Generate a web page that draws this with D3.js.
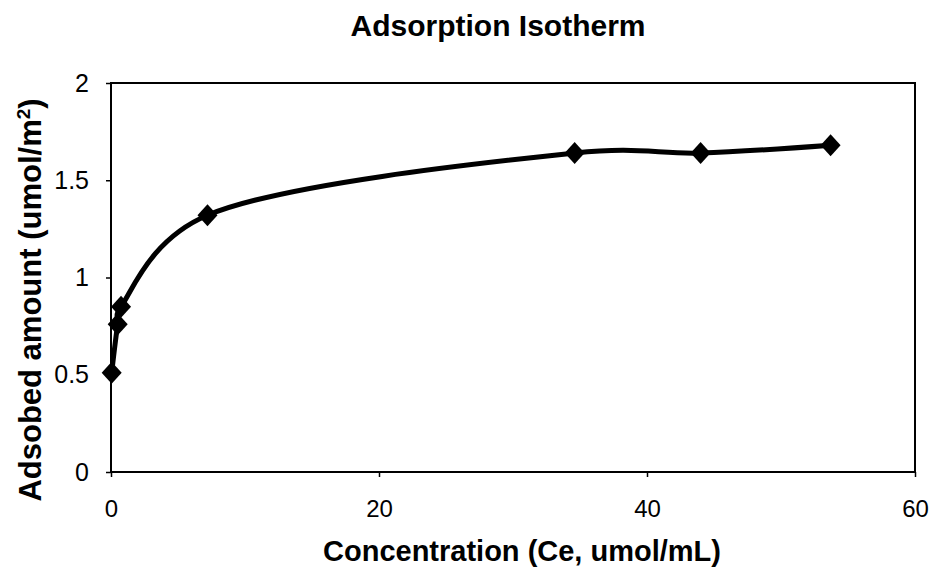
<!DOCTYPE html>
<html><head><meta charset="utf-8">
<script src="https://cdn.jsdelivr.net/npm/d3@7"></script>
<style>body{margin:0;background:#fff}svg{display:block}text{font-family:Arial,"Liberation Sans",sans-serif;fill:#000}</style>
</head><body><svg id="c" width="940" height="574"></svg>
<script>
const concentration = [0.05, 0.5, 0.75, 7.2, 34.6, 44.0, 53.7];
const adsorbed = [0.51, 0.76, 0.85, 1.32, 1.64, 1.64, 1.68];
const xTicks = [0, 20, 40, 60];
const yTicks = [0, 0.5, 1, 1.5, 2];
const yTickLabels = ["0", "0.5", "1", "1.5", "2"];
const title = "Adsorption Isotherm";
const xTitle = "Concentration (Ce, umol/mL)";

const svg = d3.select("#c");
const L = 111, R = 915, T = 83, B = 472;
const x = d3.scaleLinear().domain([0, 60]).range([L, R]);
const y = d3.scaleLinear().domain([0, 2]).range([B, T]);

svg.append("rect").attr("x", L).attr("y", T).attr("width", R - L).attr("height", B - T)
  .attr("fill", "none").attr("stroke", "#000").attr("stroke-width", 2);

const xa = svg.append("g").attr("transform", `translate(0,${B})`)
  .call(d3.axisBottom(x).tickValues(xTicks).tickSize(5).tickPadding(23).tickFormat(d3.format("d")));
xa.select(".domain").remove();
xa.selectAll("text").attr("font-size", 24).attr("font-family", "Arial, 'Liberation Sans', sans-serif");
xa.selectAll("line").attr("stroke-width", 1.5);

const ya = svg.append("g").attr("transform", `translate(${L},0)`)
  .call(d3.axisLeft(y).tickValues(yTicks).tickSize(5).tickPadding(17).tickFormat((d, i) => yTickLabels[i]));
ya.select(".domain").remove();
ya.selectAll("text").attr("font-size", 25).attr("font-family", "Arial, 'Liberation Sans', sans-serif");
ya.selectAll("line").attr("stroke-width", 1.5);

const pts = concentration.map((c, i) => [c, adsorbed[i]]);
svg.append("path").datum(pts)
  .attr("d", d3.line().x(d => x(d[0])).y(d => y(d[1])).curve(d3.curveCatmullRom.alpha(0.25)))
  .attr("fill", "none").attr("stroke", "#000").attr("stroke-width", 5).attr("stroke-linejoin", "round");

svg.append("g").selectAll("path").data(pts).join("path")
  .attr("transform", d => `translate(${x(d[0])},${y(d[1])})`)
  .attr("d", "M0,-11L10,0L0,11L-10,0Z").attr("fill", "#000");

svg.append("text").attr("x", 498).attr("y", 36).attr("text-anchor", "middle")
  .attr("font-size", 30).attr("font-weight", "bold").text(title);

svg.append("text").attr("x", 522).attr("y", 561).attr("text-anchor", "middle")
  .attr("font-size", 29).attr("font-weight", "bold").text(xTitle);

const yt = svg.append("text").attr("transform", "translate(41,300) rotate(-90)")
  .attr("text-anchor", "middle").attr("font-size", 31).attr("font-weight", "bold");
yt.append("tspan").text("Adsobed amount (umol/m");
yt.append("tspan").attr("font-size", 19).attr("dy", -11).text("2");
yt.append("tspan").attr("dy", 11).text(")");
</script></body></html>
